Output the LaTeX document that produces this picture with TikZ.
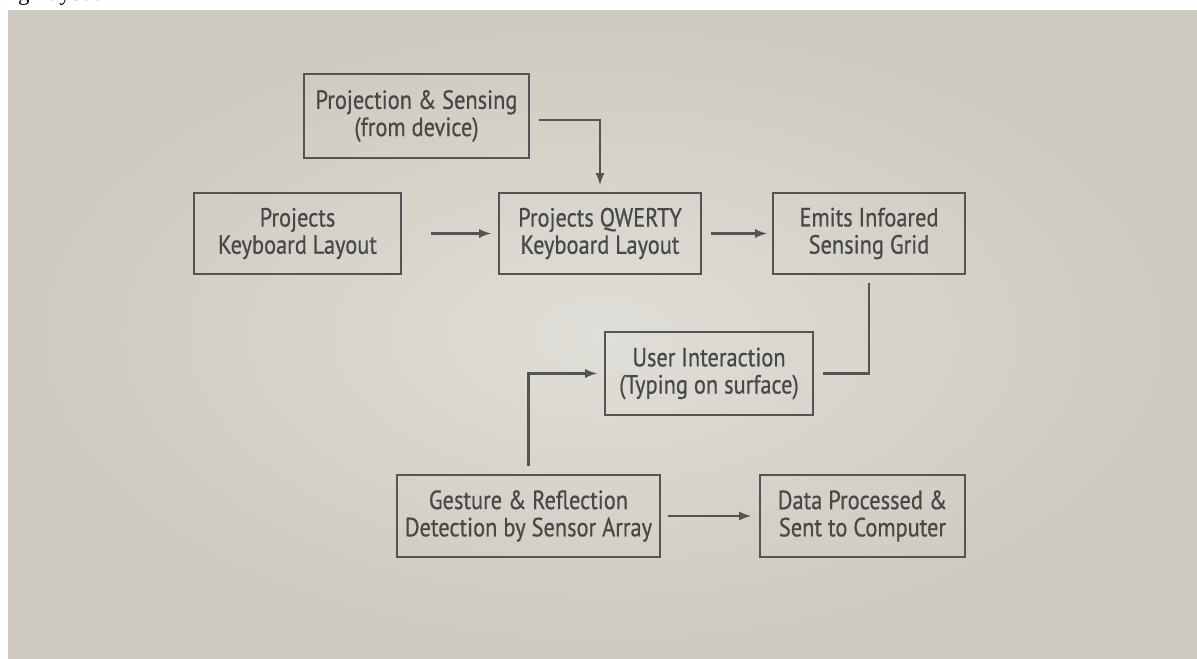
\documentclass[tikz,border=0pt]{standalone}
\usepackage{fontspec}
\setmainfont{PT Sans}
\newfontfamily\boxfont[FakeStretch=0.85,FakeBold=0.6]{PT Sans}
\newfontfamily\strayfont{Liberation Serif}
\usepackage[usenames,dvipsnames]{xcolor}
\usepackage{tikz}
\usetikzlibrary{positioning,shapes,arrows,calc}
\definecolor{paperlight}{RGB}{224,222,216}
\definecolor{paperdark}{RGB}{206,201,192}
\definecolor{ink}{RGB}{72,72,72}
\definecolor{frame}{RGB}{84,84,84}

\begin{document}
\begin{tikzpicture}[x=0.02cm,y=-0.02cm,
    block/.style={draw=frame,line width=1.2pt,align=center,text=ink,inner sep=0pt,
        font=\boxfont\fontsize{15}{15.5}\selectfont,minimum height=1.64cm},
    flow/.style={draw=frame,line width=1.3pt,-latex},
    link/.style={draw=frame,line width=1.3pt}]
    \useasboundingbox (0,0) rectangle (1197,659);
    \fill[white] (0,0) rectangle (1197,659);
    \shade[inner color=paperlight,outer color=paperdark] (8,10) rectangle (1197,659);
    \node[anchor=base west,inner sep=0pt,font=\strayfont\fontsize{13}{15}\selectfont] (cut) at (0,1) {ing Layout};
    \node[block,minimum width=4.5cm,minimum height=1.68cm] (proj) at (416.5,116) {Projection \& Sensing\\(from device)};
    \node[block,minimum width=4.14cm,minimum height=1.62cm] (kbd) at (297.5,233.5) {Projects\\Keyboard Layout};
    \node[block,minimum width=4.04cm,minimum height=1.62cm] (qwerty) at (600,233.5) {Projects QWERTY\\Keyboard Layout};
    \node[block,minimum width=3.84cm,minimum height=1.62cm] (grid) at (869,233.5) {Emits Infoared\\Sensing Grid};
    \node[block,minimum width=4.16cm,minimum height=1.66cm] (user) at (709,373.5) {User Interaction\\(Typing on surface)};
    \node[block,minimum width=5.26cm] (gesture) at (528.5,516) {Gesture \& Reflection\\Detection by Sensor Array};
    \node[block,minimum width=4.1cm] (data) at (862.5,516) {Data Processed \&\\Sent to Computer};
    \draw[flow] ([xshift=0.18cm,yshift=-0.08cm]proj.east) -| ([yshift=0.14cm]qwerty.north);
    \draw[flow,shorten <=0.58cm,shorten >=0.14cm] (kbd) -- (qwerty);
    \draw[flow,shorten <=0.18cm,shorten >=0.1cm] (qwerty) -- (grid);
    \draw[link,shorten <=0.16cm,shorten >=0.18cm] (grid.south) |- (user.east);
    \draw[flow,shorten <=0.16cm,shorten >=0.14cm] (gesture.north) |- (user.west);
    \draw[flow,shorten <=0.14cm,shorten >=0.16cm] (gesture) -- (data);
\end{tikzpicture}
\end{document}
